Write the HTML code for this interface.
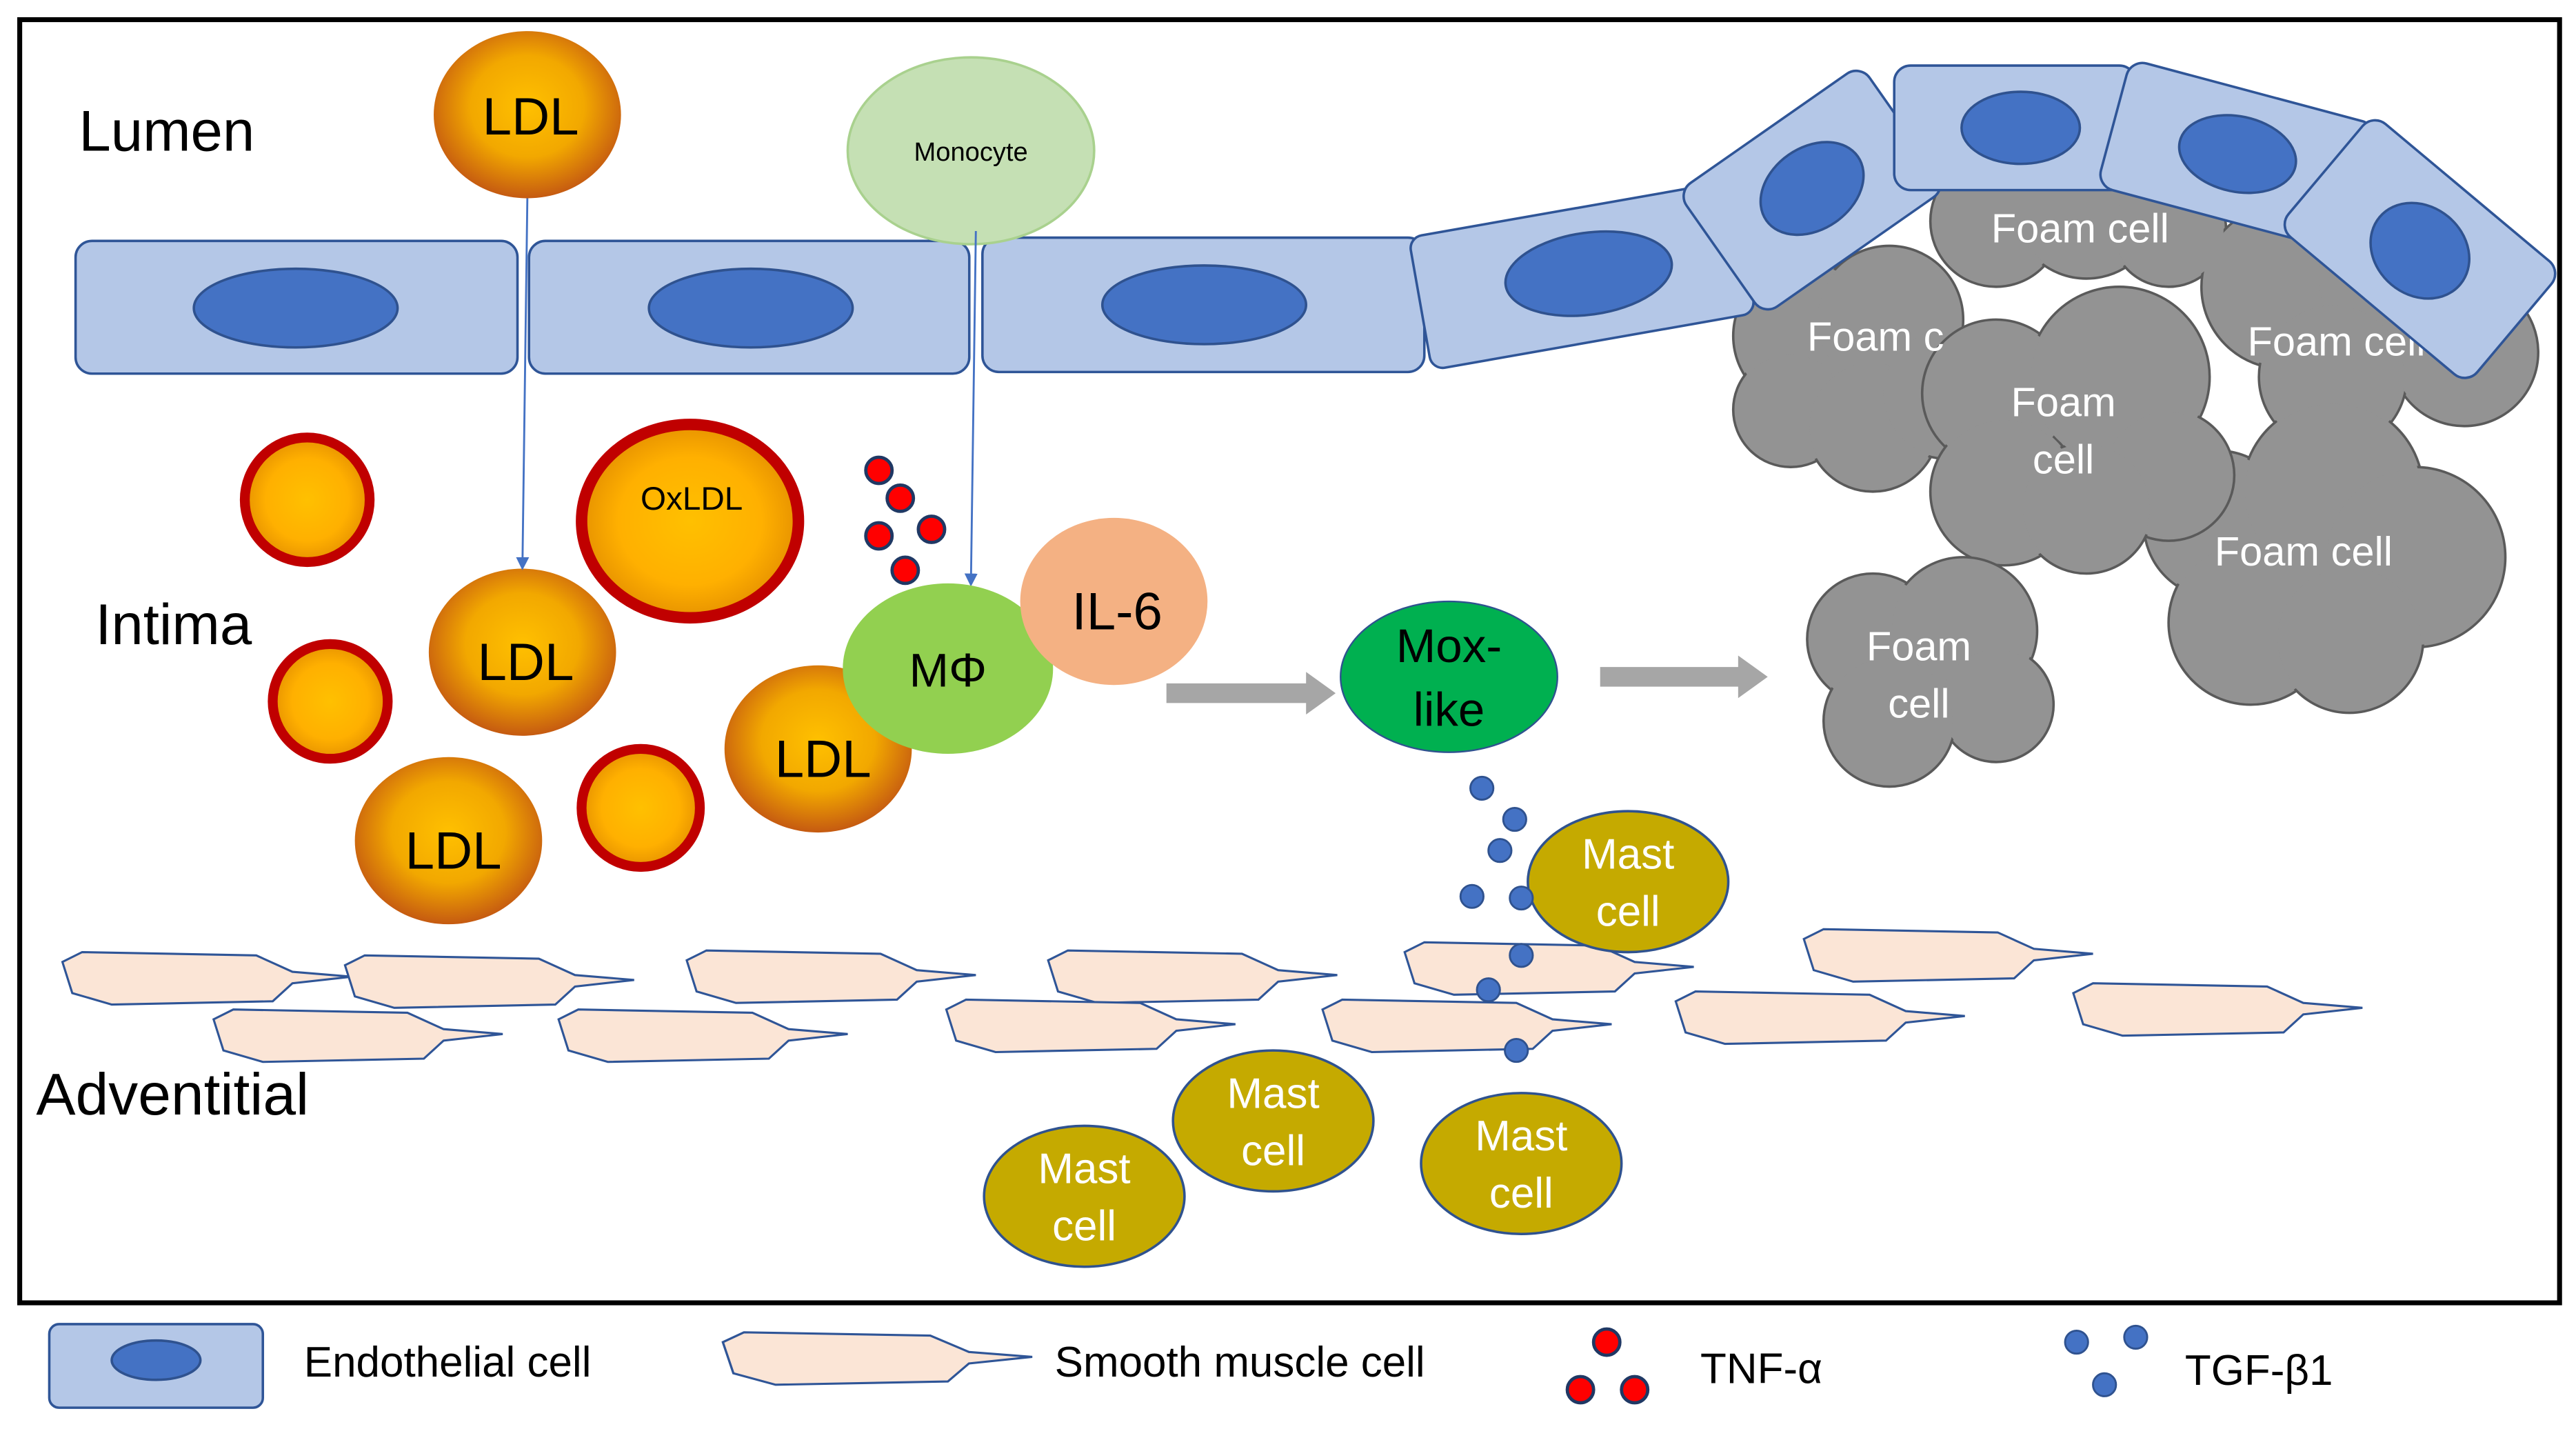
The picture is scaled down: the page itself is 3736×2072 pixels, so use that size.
<!DOCTYPE html>
<html><head><meta charset="utf-8"><style>
html,body{margin:0;padding:0;background:#fff;}
svg{display:block;}
text{font-family:"Liberation Sans",sans-serif;}
</style></head><body>
<svg width="3736" height="2072" viewBox="0 0 1568 872" preserveAspectRatio="none" xmlns="http://www.w3.org/2000/svg">
<defs>
<radialGradient id="ldl" cx="50%" cy="45%" r="55%">
<stop offset="0" stop-color="#ffc000"/><stop offset="0.55" stop-color="#f2a800"/><stop offset="1" stop-color="#c55a11"/>
</radialGradient>
<radialGradient id="ldl2" cx="50%" cy="50%" r="55%">
<stop offset="0" stop-color="#ffc000"/><stop offset="0.6" stop-color="#ffb000"/><stop offset="1" stop-color="#e08a00"/>
</radialGradient>
<path id="smc" d="M0,7 L12,1 L118,3 L140,13 L176,16 L140,20 L128,31 L30,33 L6,26 Z"/>
<marker id="ah" markerWidth="8" markerHeight="8" refX="6" refY="4" orient="auto" markerUnits="userSpaceOnUse"><path d="M0,0 L8,4 L0,8 Z" fill="#4472c4"/></marker>
</defs>
<rect x="0" y="0" width="1568" height="872" fill="#fff"/>
<rect x="12" y="12" width="1546" height="783" fill="none" stroke="#000" stroke-width="3"/>

<text x="48" y="92" font-size="35">Lumen</text>
<text x="58" y="393" font-size="35">Intima</text>
<text x="22" y="680" font-size="36">Adventitial</text>

<g fill="#939393" stroke="#5a5a5a" stroke-width="1.5">
<circle cx="1100" cy="205" r="45"/><circle cx="1150" cy="195" r="45"/><circle cx="1090" cy="250" r="35"/><circle cx="1140" cy="260" r="40"/><circle cx="1185" cy="240" r="40"/>
<circle cx="1215" cy="135" r="40"/><circle cx="1270" cy="125" r="45"/><circle cx="1320" cy="140" r="35"/>
<circle cx="1390" cy="175" r="50"/><circle cx="1460" cy="170" r="50"/><circle cx="1500" cy="215" r="45"/><circle cx="1420" cy="230" r="45"/>
<circle cx="1350" cy="320" r="45"/><circle cx="1420" cy="300" r="55"/><circle cx="1470" cy="340" r="55"/><circle cx="1370" cy="380" r="50"/><circle cx="1430" cy="390" r="45"/>
</g>
<g fill="#939393">
<circle cx="1100" cy="205" r="43.5"/><circle cx="1150" cy="195" r="43.5"/><circle cx="1090" cy="250" r="33.5"/><circle cx="1140" cy="260" r="38.5"/><circle cx="1185" cy="240" r="38.5"/>
<circle cx="1215" cy="135" r="38.5"/><circle cx="1270" cy="125" r="43.5"/><circle cx="1320" cy="140" r="33.5"/>
<circle cx="1390" cy="175" r="48.5"/><circle cx="1460" cy="170" r="48.5"/><circle cx="1500" cy="215" r="43.5"/><circle cx="1420" cy="230" r="43.5"/>
<circle cx="1350" cy="320" r="43.5"/><circle cx="1420" cy="300" r="53.5"/><circle cx="1470" cy="340" r="53.5"/><circle cx="1370" cy="380" r="48.5"/><circle cx="1430" cy="390" r="43.5"/>
</g>
<g fill="#939393" stroke="#5a5a5a" stroke-width="1.5">
<circle cx="1215" cy="240" r="45"/><circle cx="1290" cy="230" r="55"/><circle cx="1320" cy="290" r="40"/><circle cx="1220" cy="300" r="45"/><circle cx="1270" cy="310" r="40"/>
</g>
<g fill="#939393">
<circle cx="1215" cy="240" r="43.5"/><circle cx="1290" cy="230" r="53.5"/><circle cx="1320" cy="290" r="38.5"/><circle cx="1220" cy="300" r="43.5"/><circle cx="1270" cy="310" r="38.5"/>
</g>
<g fill="#939393" stroke="#5a5a5a" stroke-width="1.5">
<circle cx="1140" cy="390" r="40"/><circle cx="1195" cy="385" r="45"/><circle cx="1215" cy="430" r="35"/><circle cx="1150" cy="440" r="40"/>
</g>
<g fill="#939393">
<circle cx="1140" cy="390" r="38.5"/><circle cx="1195" cy="385" r="43.5"/><circle cx="1215" cy="430" r="33.5"/><circle cx="1150" cy="440" r="38.5"/>
</g>
<g fill="#fff" font-size="25">
<text x="1100" y="214">Foam c</text>
<text x="1212" y="148">Foam cell</text>
<text x="1368" y="217">Foam cell</text>
<text x="1256" y="254" text-anchor="middle">Foam</text><text x="1256" y="289" text-anchor="middle">cell</text>
<text x="1348" y="345">Foam cell</text>
<text x="1168" y="403" text-anchor="middle">Foam</text><text x="1168" y="438" text-anchor="middle">cell</text>
</g>

<g fill="#b4c7e7" stroke="#2f5597" stroke-width="1.5">
<rect x="46" y="147" width="269" height="81" rx="10"/>
<rect x="322" y="147" width="268" height="81" rx="10"/>
<rect x="598" y="145" width="269" height="82" rx="10"/>
<g transform="translate(963,168) rotate(-10)"><rect x="-100" y="-41" width="200" height="82" rx="8"/></g>
<g transform="translate(1103,116) rotate(-35)"><rect x="-68" y="-46" width="136" height="92" rx="10"/></g>
<rect x="1153" y="40" width="147" height="76" rx="10"/>
<g transform="translate(1362,95) rotate(15)"><rect x="-78" y="-40" width="156" height="80" rx="10"/></g>
<g transform="translate(1473,152) rotate(40)"><rect x="-75" y="-45" width="150" height="90" rx="10"/></g>
</g>
<g fill="#4472c4" stroke="#2f528f" stroke-width="1.5">
<ellipse cx="180" cy="188" rx="62" ry="24"/>
<ellipse cx="457" cy="188" rx="62" ry="24"/>
<ellipse cx="733" cy="186" rx="62" ry="24"/>
<ellipse cx="967" cy="167" rx="51" ry="25" transform="rotate(-8 967 167)"/>
<ellipse cx="1103" cy="115" rx="34" ry="25" transform="rotate(-35 1103 115)"/>
<ellipse cx="1230" cy="78" rx="36" ry="22"/>
<ellipse cx="1362" cy="94" rx="36" ry="23" transform="rotate(12 1362 94)"/>
<ellipse cx="1473" cy="153" rx="32" ry="27" transform="rotate(40 1473 153)"/>
</g>

<ellipse cx="591" cy="92" rx="75" ry="57" fill="#c5e0b4" stroke="#a9d18e" stroke-width="1.5"/>
<text x="591" y="98" font-size="16" text-anchor="middle">Monocyte</text>

<g fill="url(#ldl)">
<ellipse cx="321" cy="70" rx="57" ry="51"/>
<ellipse cx="318" cy="398" rx="57" ry="51"/>
<ellipse cx="273" cy="513" rx="57" ry="51"/>
<ellipse cx="498" cy="457" rx="57" ry="51"/>
</g>
<g font-size="32" text-anchor="middle">
<text x="323" y="82">LDL</text><text x="320" y="415">LDL</text><text x="276" y="530">LDL</text><text x="501" y="474">LDL</text>
</g>
<g fill="url(#ldl2)" stroke="#c00000">
<circle cx="187" cy="305" r="38" stroke-width="6"/>
<circle cx="201" cy="428" r="35" stroke-width="6"/>
<circle cx="390" cy="493" r="36" stroke-width="6"/>
<ellipse cx="420" cy="318" rx="66" ry="59" stroke-width="7"/>
</g>
<text x="421" y="311" font-size="20" text-anchor="middle">OxLDL</text>

<line x1="321" y1="121" x2="318" y2="346" stroke="#4472c4" stroke-width="1.2" marker-end="url(#ah)"/>
<line x1="594" y1="141" x2="591" y2="356" stroke="#4472c4" stroke-width="1.2" marker-end="url(#ah)"/>

<g fill="#ff0000" stroke="#1f3864" stroke-width="2">
<circle cx="535" cy="287" r="8"/><circle cx="548" cy="304" r="8"/><circle cx="535" cy="327" r="8"/><circle cx="567" cy="323" r="8"/><circle cx="551" cy="348" r="8"/>
</g>

<ellipse cx="577" cy="408" rx="64" ry="52" fill="#92d050"/>
<text x="577" y="419" font-size="29" text-anchor="middle">MΦ</text>
<ellipse cx="678" cy="367" rx="57" ry="51" fill="#f4b183"/>
<text x="680" y="384" font-size="32" text-anchor="middle">IL-6</text>

<g fill="#a6a6a6">
<path d="M710,417 L795,417 L795,410 L813,423 L795,436 L795,429 L710,429 Z"/>
<path d="M974,407 L1058,407 L1058,400 L1076,413 L1058,426 L1058,419 L974,419 Z"/>
</g>
<ellipse cx="882" cy="413" rx="66" ry="46" fill="#00b050" stroke="#2f528f" stroke-width="1"/>
<text x="882" y="404" font-size="29" text-anchor="middle">Mox-</text>
<text x="882" y="443" font-size="29" text-anchor="middle">like</text>

<g fill="#fbe5d6" stroke="#2f5597" stroke-width="1.3">
<use href="#smc" x="38" y="580"/><use href="#smc" x="210" y="582"/><use href="#smc" x="418" y="579"/><use href="#smc" x="638" y="579"/><use href="#smc" x="855" y="574"/><use href="#smc" x="1098" y="566"/>
<use href="#smc" x="130" y="615"/><use href="#smc" x="340" y="615"/><use href="#smc" x="576" y="609"/><use href="#smc" x="805" y="609"/><use href="#smc" x="1020" y="604"/><use href="#smc" x="1262" y="599"/>
</g>

<g fill="#c5aa00" stroke="#2f528f" stroke-width="1.5">
<ellipse cx="991" cy="538" rx="61" ry="43"/>
<ellipse cx="775" cy="684" rx="61" ry="43"/>
<ellipse cx="660" cy="730" rx="61" ry="43"/>
<ellipse cx="926" cy="710" rx="61" ry="43"/>
</g>
<g fill="#fff" font-size="26" text-anchor="middle">
<text x="991" y="530">Mast</text><text x="991" y="565">cell</text>
<text x="775" y="676">Mast</text><text x="775" y="711">cell</text>
<text x="660" y="722">Mast</text><text x="660" y="757">cell</text>
<text x="926" y="702">Mast</text><text x="926" y="737">cell</text>
</g>

<g fill="#4472c4" stroke="#2f528f" stroke-width="1.2">
<circle cx="902" cy="481" r="7"/><circle cx="922" cy="500" r="7"/><circle cx="913" cy="519" r="7"/><circle cx="896" cy="547" r="7"/><circle cx="926" cy="548" r="7"/><circle cx="926" cy="583" r="7"/><circle cx="906" cy="604" r="7"/><circle cx="923" cy="641" r="7"/>
</g>

<rect x="30" y="808" width="130" height="51" rx="6" fill="#b4c7e7" stroke="#2f5597" stroke-width="1.5"/>
<ellipse cx="95" cy="830" rx="27" ry="12" fill="#4472c4" stroke="#2f528f" stroke-width="1.5"/>
<text x="185" y="840" font-size="26">Endothelial cell</text>
<g transform="translate(440,812) scale(1.07,1)"><use href="#smc" fill="#fbe5d6" stroke="#2f5597" stroke-width="1.3"/></g>
<text x="642" y="840" font-size="26">Smooth muscle cell</text>
<g fill="#ff0000" stroke="#1f3864" stroke-width="2">
<circle cx="978" cy="819" r="8"/><circle cx="962" cy="848" r="8"/><circle cx="995" cy="848" r="8"/>
</g>
<text x="1035" y="844" font-size="26">TNF-α</text>
<g fill="#4472c4" stroke="#2f528f" stroke-width="1.2">
<circle cx="1264" cy="819" r="7"/><circle cx="1300" cy="816" r="7"/><circle cx="1281" cy="845" r="7"/>
</g>
<text x="1330" y="845" font-size="26">TGF-β1</text>
</svg>
</body></html>
